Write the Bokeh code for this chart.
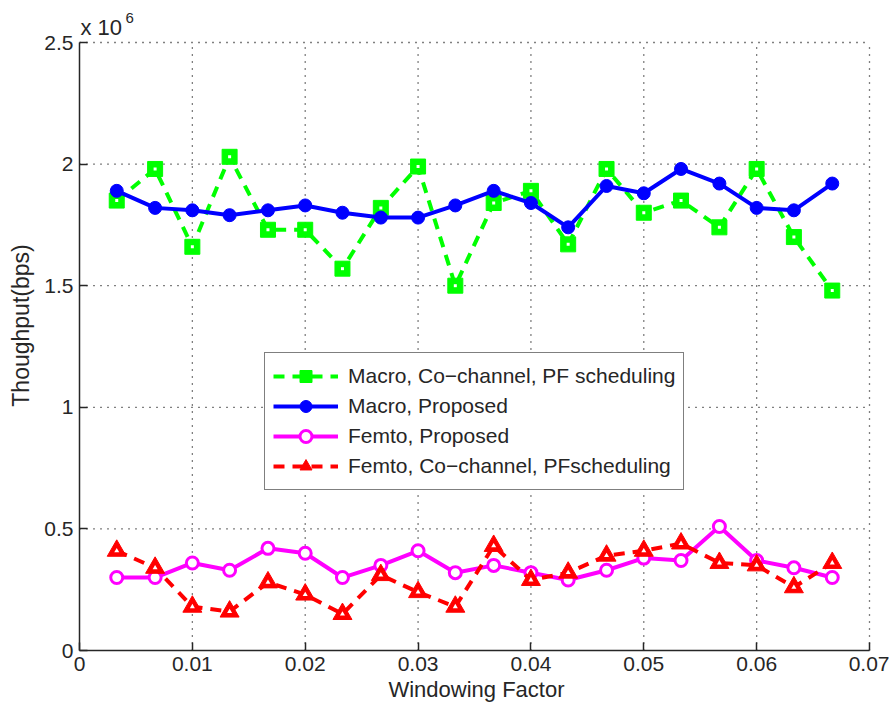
from bokeh.plotting import figure
from bokeh.models import (Range1d, FixedTicker, CustomJSTickFormatter, Legend, LegendItem, Label)
from bokeh.embed import file_html
from bokeh.resources import INLINE

# ---- data (throughput in units of 10^6 bps) ----
windowing = [0.0033, 0.0067, 0.0100, 0.0133, 0.0167, 0.0200, 0.0233, 0.0267, 0.0300, 0.0333,
             0.0367, 0.0400, 0.0433, 0.0467, 0.0500, 0.0533, 0.0567, 0.0600, 0.0633, 0.0667]
macro_cochannel = [1.85, 1.98, 1.66, 2.03, 1.73, 1.73, 1.57, 1.82, 1.99, 1.50,
                   1.84, 1.89, 1.67, 1.98, 1.80, 1.85, 1.74, 1.98, 1.70, 1.48]
macro_proposed = [1.89, 1.82, 1.81, 1.79, 1.81, 1.83, 1.80, 1.78, 1.78, 1.83,
                  1.89, 1.84, 1.74, 1.91, 1.88, 1.98, 1.92, 1.82, 1.81, 1.92]
femto_proposed = [0.30, 0.30, 0.36, 0.33, 0.42, 0.40, 0.30, 0.35, 0.41, 0.32,
                  0.35, 0.32, 0.29, 0.33, 0.38, 0.37, 0.51, 0.37, 0.34, 0.30]
femto_cochannel = [0.41, 0.34, 0.18, 0.16, 0.28, 0.23, 0.15, 0.31, 0.24, 0.18,
                   0.43, 0.29, 0.32, 0.39, 0.41, 0.44, 0.36, 0.35, 0.26, 0.36]

x_ticks = [0, 0.01, 0.02, 0.03, 0.04, 0.05, 0.06, 0.07]
y_ticks = [0, 0.5, 1, 1.5, 2, 2.5]

FONT = "Liberation Sans"
TXT = "#262626"

# ---- layout: axes box 790 x 608 px; frame extended a little above / right of it
BOX_W, BOX_H = 790, 608
LEFT, BOTTOM, TOP_PAD, RIGHT_PAD = 79, 59, 42, 4
x_end = x_ticks[-1] * (BOX_W + RIGHT_PAD) / BOX_W
y_end = y_ticks[-1] * (BOX_H + TOP_PAD) / BOX_H

p = figure(frame_width=BOX_W + RIGHT_PAD, frame_height=BOX_H + TOP_PAD,
           output_backend="svg", toolbar_location=None, title=None,
           x_range=Range1d(0, x_end), y_range=Range1d(0, y_end),
           min_border_left=LEFT, min_border_right=889 - LEFT - BOX_W - RIGHT_PAD,
           min_border_top=0, min_border_bottom=BOTTOM)
p.outline_line_color = None
p.background_fill_color = "white"

for ax in (p.xaxis[0], p.yaxis[0]):
    ax.major_tick_in = 8
    ax.major_tick_out = 0
    ax.minor_tick_in = 0
    ax.minor_tick_out = 0
    ax.axis_line_color = TXT
    ax.axis_line_width = 1.5
    ax.major_tick_line_color = TXT
    ax.major_tick_line_width = 1.5
    ax.major_label_text_font = FONT
    ax.major_label_text_font_size = "21px"
    ax.major_label_text_color = TXT
    ax.axis_label_text_font = FONT
    ax.axis_label_text_font_size = "22px"
    ax.axis_label_text_font_style = "normal"
    ax.axis_label_text_color = TXT
p.yaxis.axis_label_text_font_size = "23px"

p.xaxis.ticker = FixedTicker(ticks=x_ticks)
p.yaxis.ticker = FixedTicker(ticks=y_ticks)
p.xaxis.bounds = (x_ticks[0], x_ticks[-1])
p.yaxis.bounds = (y_ticks[0], y_ticks[-1])
p.xaxis.formatter = CustomJSTickFormatter(code="return String(Math.round(tick*100)/100);")
p.yaxis.formatter = CustomJSTickFormatter(code="return String(Math.round(tick*10)/10);")
p.xaxis.axis_label = "Windowing Factor"
p.yaxis.axis_label = "Thoughput(bps)"
p.xaxis.major_label_standoff = 6
p.yaxis.major_label_standoff = 6
p.xaxis.axis_label_standoff = 3
p.yaxis.axis_label_standoff = 7

# dotted grid, limited to the axes box
p.xgrid.visible = False
p.ygrid.visible = False
gx = x_ticks[1:]
p.segment(x0=gx, y0=[y_ticks[0]] * len(gx), x1=gx, y1=[y_ticks[-1]] * len(gx),
          line_color="black", line_dash="1 6", line_width=1.3)
gy = y_ticks[1:]
p.segment(x0=[x_ticks[0]] * len(gy), y0=gy, x1=[x_ticks[-1]] * len(gy), y1=gy,
          line_color="black", line_dash="1 6", line_width=1.3)

# series
l1 = p.line(windowing, macro_cochannel, line_color="#00ff00", line_width=4, line_dash="11 8")
m1 = p.scatter(windowing, macro_cochannel, marker="square", size=15, line_color="#00ff00",
               fill_color="#00ff00")
p.scatter(windowing, macro_cochannel, marker="square", size=3, line_color=None, fill_color="white")
l2 = p.line(windowing, macro_proposed, line_color="#0000ff", line_width=4)
m2 = p.scatter(windowing, macro_proposed, marker="circle", size=13, line_color="#0000ff",
               fill_color="#0000ff")
l3 = p.line(windowing, femto_proposed, line_color="#ff00ff", line_width=4)
m3 = p.scatter(windowing, femto_proposed, marker="circle", size=12, line_color="#ff00ff",
               line_width=3, fill_color="white")
l4 = p.line(windowing, femto_cochannel, line_color="#ff0000", line_width=4, line_dash="11 8")
m4 = p.scatter(windowing, femto_cochannel, marker="triangle", size=19, line_color="#ff0000",
               fill_color="#ff0000")
p.scatter(windowing, femto_cochannel, marker="triangle", size=5, line_color=None, fill_color="white")

legend = Legend(items=[
    LegendItem(label="Macro, Co\u2212channel, PF scheduling", renderers=[l1, m1]),
    LegendItem(label="Macro, Proposed", renderers=[l2, m2]),
    LegendItem(label="Femto, Proposed", renderers=[l3, m3]),
    LegendItem(label="Femto, Co\u2212channel, PFscheduling", renderers=[l4, m4]),
], location=(185, 160))
legend.label_text_font = FONT
legend.label_text_font_size = "21px"
legend.label_text_color = TXT
legend.glyph_width = 65
legend.glyph_height = 30
legend.label_height = 20
legend.label_standoff = 10
legend.spacing = 0
legend.padding = 8
legend.margin = 0
legend.border_line_color = "black"
legend.border_line_width = 1.2
legend.background_fill_alpha = 1
p.add_layout(legend, "center")

# exponent label "x 10^6"
p.add_layout(Label(x=x_ticks[0], y=y_ticks[-1], text="x 10", x_offset=1, y_offset=15,
                   text_font=FONT, text_font_size="22px", text_color=TXT,
                   text_baseline="alphabetic"))
p.add_layout(Label(x=x_ticks[0], y=y_ticks[-1], text="6", x_offset=46, y_offset=25,
                   text_font=FONT, text_font_size="15px", text_color=TXT,
                   text_baseline="alphabetic"))

open("out.html", "w").write(file_html(p, INLINE))
